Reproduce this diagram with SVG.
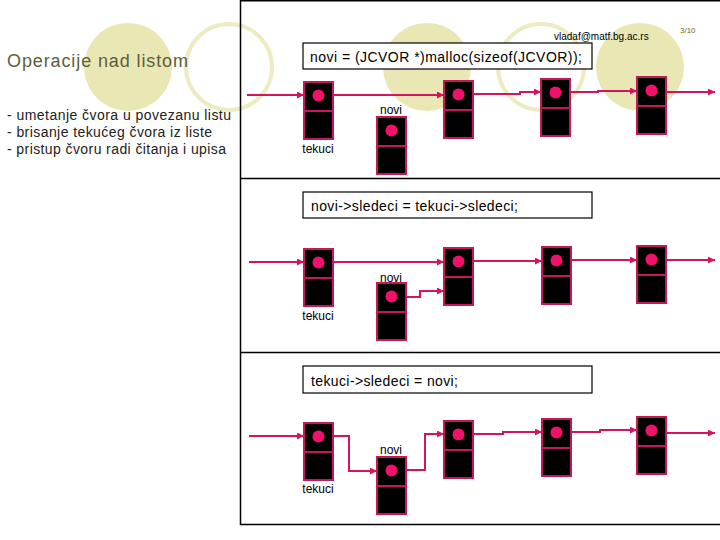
<svg xmlns="http://www.w3.org/2000/svg" width="720" height="540" viewBox="0 0 720 540">
<style>
.bg{fill:#e9e8b4}
.ring{fill:none;stroke:#ecebc2;stroke-width:4}
.frame{fill:none;stroke:#000;stroke-width:1.5}
.box{fill:#fff;stroke:#000;stroke-width:1.2}
.cell{fill:#000;stroke:#c4185c;stroke-width:2}
.dot{fill:#f0126a}
.link{fill:none;stroke:#d3155f;stroke-width:2}
.code{font-family:"Liberation Sans",Arial,sans-serif;font-size:14px;fill:#000}
.lbl{font-family:"Liberation Sans",Arial,sans-serif;font-size:12px;fill:#000}
.title{font-family:"Liberation Sans",Arial,sans-serif;font-size:18px;fill:#5e5e3c}
.bul{font-family:"Liberation Sans",Arial,sans-serif;font-size:14px;fill:#222}
</style>
<defs>
<marker id="ah" viewBox="0 0 8 8" refX="8" refY="4" markerWidth="7" markerHeight="7" markerUnits="userSpaceOnUse" orient="auto">
<path d="M0,0 L8,4 L0,8 z" fill="#d3155f"/>
</marker>
<g id="nodeShape">
<rect class="cell" x="0" y="0" width="29" height="57"/>
<line x1="0" y1="29" x2="29" y2="29" stroke="#c4185c" stroke-width="2"/>
<circle class="dot" cx="14.5" cy="13.5" r="6"/>
</g>
</defs>
<rect width="720" height="540" fill="#fff"/>
<g id="background">
<circle class="bg" cx="128" cy="67" r="44"/>
<circle class="ring" cx="229" cy="67" r="43"/>
<circle class="bg" cx="427" cy="67" r="44"/>
<circle class="ring" cx="541" cy="67" r="43"/>
<circle class="bg" cx="640" cy="67" r="44"/>
</g>
<g id="title">
<text class="title" x="7" y="67" textLength="181" lengthAdjust="spacing">Operacije nad listom</text>
<text class="bul" x="7" y="120" textLength="224" lengthAdjust="spacing">- umetanje čvora u povezanu listu</text>
<text class="bul" x="7" y="137" textLength="205" lengthAdjust="spacing">- brisanje tekućeg čvora iz liste</text>
<text class="bul" x="7" y="154" textLength="219" lengthAdjust="spacing">- pristup čvoru radi čitanja i upisa</text>
<text x="554" y="40" font-family="Liberation Sans,Arial,sans-serif" font-size="10" fill="#000">vladaf@matf.bg.ac.rs</text>
<text x="680" y="33" font-family="Liberation Sans,Arial,sans-serif" font-size="8" fill="#6b6b30">3/10</text>
</g>
<g id="frame">
<path class="frame" d="M240.5,0 V524.5 H720 M240,0.8 H720 M240,178.5 H720 M240,352.5 H720"/>
</g>
<g id="codeboxes">
<rect class="box" x="303" y="43" width="289" height="26"/>
<text class="code" x="310" y="62" textLength="272" lengthAdjust="spacing">novi = (JCVOR *)malloc(sizeof(JCVOR));</text>
<rect class="box" x="303" y="192" width="289" height="26"/>
<text class="code" x="311" y="211" textLength="207" lengthAdjust="spacing">novi-&gt;sledeci = tekuci-&gt;sledeci;</text>
<rect class="box" x="303" y="366" width="289" height="27"/>
<text class="code" x="311" y="386" textLength="147" lengthAdjust="spacing">tekuci-&gt;sledeci = novi;</text>
</g>
<g id="connectors">
<line class="link" x1="247" y1="95" x2="304" y2="95" marker-end="url(#ah)"/>
<line class="link" x1="318" y1="95" x2="444" y2="95" marker-end="url(#ah)"/>
<polyline class="link" points="458,94 520,94 520,92 541,92" marker-end="url(#ah)"/>
<polyline class="link" points="555,92 598,92 598,91 637,91" marker-end="url(#ah)"/>
<line class="link" x1="651" y1="92" x2="715" y2="92" marker-end="url(#ah)"/>
<line class="link" x1="249" y1="262" x2="304" y2="262" marker-end="url(#ah)"/>
<line class="link" x1="318" y1="262" x2="444" y2="262" marker-end="url(#ah)"/>
<polyline class="link" points="390,297 420,297 420,291 444,291" marker-end="url(#ah)"/>
<line class="link" x1="458" y1="261" x2="542" y2="261" marker-end="url(#ah)"/>
<line class="link" x1="555" y1="260" x2="637" y2="260" marker-end="url(#ah)"/>
<line class="link" x1="651" y1="260" x2="715" y2="260" marker-end="url(#ah)"/>
<line class="link" x1="249" y1="436" x2="304" y2="436" marker-end="url(#ah)"/>
<polyline class="link" points="318,436 349,436 349,471 377,471" marker-end="url(#ah)"/>
<polyline class="link" points="390,470 425,470 425,434 444,434" marker-end="url(#ah)"/>
<polyline class="link" points="458,434 503,434 503,432 542,432" marker-end="url(#ah)"/>
<polyline class="link" points="555,432 600,432 600,430 637,430" marker-end="url(#ah)"/>
<line class="link" x1="651" y1="433" x2="715" y2="433" stroke-width="2.5" marker-end="url(#ah)"/>
</g>
<g id="p1-tekuci"><use href="#nodeShape" x="304" y="82"/><text class="lbl" x="318" y="153" text-anchor="middle">tekuci</text></g>
<g id="p1-novi"><use href="#nodeShape" x="377" y="117"/><text class="lbl" x="391" y="114" text-anchor="middle">novi</text></g>
<g id="p1-n2"><use href="#nodeShape" x="444" y="81"/></g>
<g id="p1-n3"><use href="#nodeShape" x="541" y="79"/></g>
<g id="p1-n4"><use href="#nodeShape" x="637" y="77"/></g>
<g id="p2-tekuci"><use href="#nodeShape" x="304" y="249"/><text class="lbl" x="318" y="320" text-anchor="middle">tekuci</text></g>
<g id="p2-novi"><use href="#nodeShape" x="377" y="283"/><text class="lbl" x="391" y="282" text-anchor="middle">novi</text></g>
<g id="p2-n2"><use href="#nodeShape" x="444" y="248"/></g>
<g id="p2-n3"><use href="#nodeShape" x="542" y="247"/></g>
<g id="p2-n4"><use href="#nodeShape" x="637" y="246"/></g>
<g id="p3-tekuci"><use href="#nodeShape" x="304" y="423"/><text class="lbl" x="318" y="493" text-anchor="middle">tekuci</text></g>
<g id="p3-novi"><use href="#nodeShape" x="377" y="457"/><text class="lbl" x="391" y="454" text-anchor="middle">novi</text></g>
<g id="p3-n2"><use href="#nodeShape" x="444" y="421"/></g>
<g id="p3-n3"><use href="#nodeShape" x="542" y="419"/></g>
<g id="p3-n4"><use href="#nodeShape" x="637" y="417"/></g>
</svg>
